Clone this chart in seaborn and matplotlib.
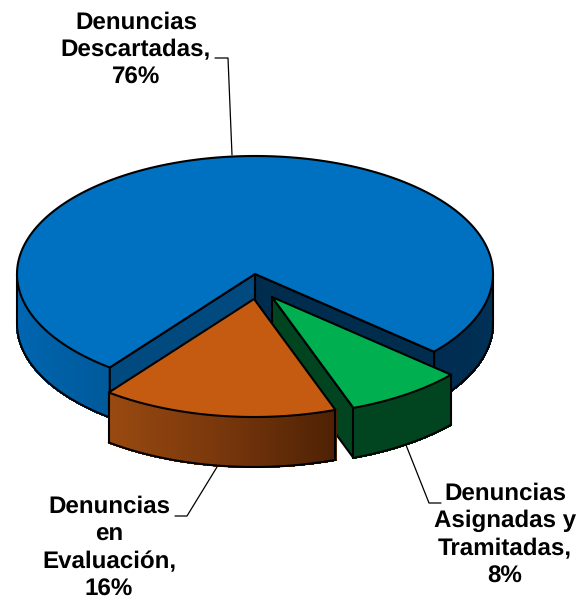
import numpy as np
import matplotlib
matplotlib.use('Agg')
import matplotlib.pyplot as plt
import seaborn as sns

# values, in drawing order counter-clockwise
labels = ['Denuncias\nDescartadas,\n76%', 'Denuncias\nen\nEvaluación,\n16%', 'Denuncias\nAsignadas y\nTramitadas,\n8%']
shares = [76, 16, 8]
top_colors = ['#0070C0', '#C55A11', '#00B050']

# ---- pie geometry in pixels ---- #
CX, CY = 255, 274
RX, RY = 238, 118
DEPTH = 50
START = 318.8
offsets = [(0, 0), (-1, 25), (17, 23)]
LW = 1.5
EDGE = dict(color='black', lw=LW, solid_capstyle='round', solid_joinstyle='round')


def point(t, off=(0, 0)):
    t = np.radians(t)
    return CX + off[0] + RX * np.cos(t), CY + off[1] - RY * np.sin(t)


def draw_top(ax, t0, t1, off, color, z):
    ts = np.linspace(t0, t1, 200)
    x, y = point(ts, off)
    ax.fill(np.r_[CX + off[0], x], np.r_[CY + off[1], y], facecolor=color,
            edgecolor='black', lw=LW, joinstyle='round', zorder=z)


def draw_side(ax, t0, t1, off, palette, z, close_left=True, close_right=True):
    # gradient side wall, thin strips coloured along the x direction
    ts = np.linspace(t0, t1, len(palette) + 1)
    for i, c in enumerate(palette):
        tt = np.linspace(ts[i], ts[i + 1], 4)
        x, y = point(tt, off)
        ax.fill(np.r_[x, x[::-1]], np.r_[y, y[::-1] + DEPTH], facecolor=c, edgecolor=c,
                lw=1.0, antialiased=False, zorder=z)
    tt = np.linspace(t0, t1, 200)
    x, y = point(tt, off)
    ax.plot(x, y + DEPTH, zorder=z + 0.1, **EDGE)
    if close_left:
        ax.plot([x[0], x[0]], [y[0], y[0] + DEPTH], zorder=z + 0.1, **EDGE)
    if close_right:
        ax.plot([x[-1], x[-1]], [y[-1], y[-1] + DEPTH], zorder=z + 0.1, **EDGE)


def draw_wall(ax, t, off, color, z):
    x, y = point(t, off)
    ax.fill([CX + off[0], x, x, CX + off[0]],
            [CY + off[1], y, y + DEPTH, CY + off[1] + DEPTH],
            facecolor=color, edgecolor='black', lw=LW, joinstyle='round', zorder=z)


sns.set_theme(style='white')
plt.rcParams['font.family'] = ['Liberation Sans', 'DejaVu Sans']
plt.rcParams['text.hinting'] = 'none'

fig = plt.figure(figsize=(5.8, 6.0), dpi=100)
ax = fig.add_axes([0, 0, 1, 1])
ax.set_xlim(0, 580)
ax.set_ylim(600, 0)
ax.axis('off')

spans = np.array(shares) / sum(shares) * 360
t_blue0 = START
t_blue1 = t_blue0 + spans[0]
t_orange1 = t_blue1 + spans[1]
t_green1 = t_orange1 + spans[2]

# blue slice: outer side, inner walls, top
draw_side(ax, 180, t_blue1 % 360, offsets[0], sns.blend_palette(['#006ab8', '#005a9c'], 60), 1)
draw_side(ax, t_blue0, 360, offsets[0], sns.blend_palette(['#002c50', '#003258'], 60), 1)
draw_wall(ax, t_blue0, offsets[0], '#002C4E', 2)
draw_wall(ax, t_blue1 % 360, offsets[0], '#004A80', 3)
draw_top(ax, t_blue0, t_blue1, offsets[0], top_colors[0], 4)

# green slice
draw_wall(ax, t_orange1 % 360, offsets[2], '#00451F', 5)
draw_side(ax, t_orange1 % 360, t_green1 % 360, offsets[2], sns.blend_palette(['#00451F', '#00451F'], 30), 6)
draw_top(ax, t_orange1 % 360, t_green1 % 360, offsets[2], top_colors[2], 7)

# orange slice
draw_side(ax, t_blue1 % 360, t_orange1 % 360, offsets[1], sns.blend_palette(['#9A4A10', '#7A380C', '#4F2205'], 90), 8)
draw_top(ax, t_blue1 % 360, t_orange1 % 360, offsets[1], top_colors[1], 9)

# leader lines
ax.plot([215, 228, 232], [58, 58, 155], color='black', lw=0.9, zorder=10)
ax.plot([175, 187, 217], [516, 516, 467], color='black', lw=0.9, zorder=10)
ax.plot([441, 429, 406], [503, 503, 445], color='black', lw=0.9, zorder=10)

# data labels
label_pos = [(136, 50), (109, 548), (505, 535)]
for text, (lx, ly) in zip(labels, label_pos):
    ax.text(lx, ly, text, ha='center', va='center', fontsize=17.4, fontweight='bold',
            color='black', linespacing=1.3, zorder=11)

fig.savefig('out.png', dpi=100, facecolor='white')
